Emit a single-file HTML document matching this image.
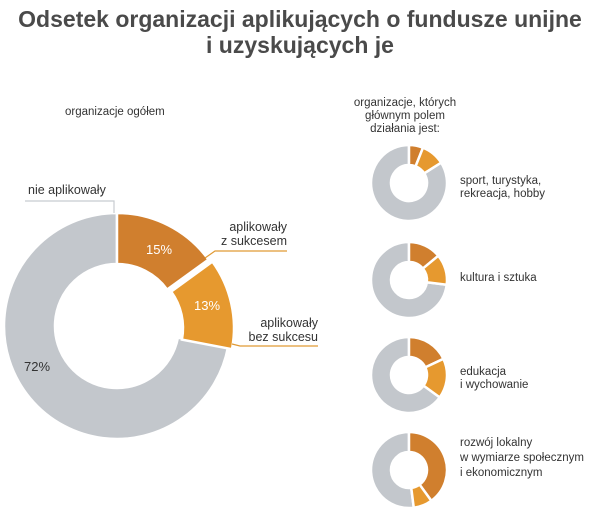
<!DOCTYPE html>
<html><head><meta charset="utf-8"><style>
body{margin:0;background:#fff;width:600px;height:525px;overflow:hidden;font-family:"Liberation Sans",sans-serif;}
svg{position:absolute;left:0;top:0}
</style></head><body>
<svg id="s" width="600" height="525" xmlns="http://www.w3.org/2000/svg">
<text x="300" y="27" text-anchor="middle" font-size="23" font-weight="bold" fill="#4a4a4a">Odsetek organizacji aplikujących o fundusze unijne</text>
<text x="300" y="53" text-anchor="middle" font-size="23" font-weight="bold" fill="#4a4a4a">i uzyskujących je</text>
<text x="65" y="115" font-size="11.5" fill="#333">organizacje ogółem</text>
<g font-size="11.5" fill="#333" text-anchor="middle">
<text x="405" y="106">organizacje, których</text>
<text x="405" y="119">głównym polem</text>
<text x="405" y="132">działania jest:</text>
</g>
<g id="d"></g>
<g font-size="12.5" fill="#333">
<text x="28" y="194">nie aplikowały</text>
<text x="287" y="231" text-anchor="end">aplikowały</text>
<text x="287" y="245" text-anchor="end">z sukcesem</text>
<text x="318" y="327" text-anchor="end">aplikowały</text>
<text x="318" y="341" text-anchor="end">bez sukcesu</text>
</g>
<polyline points="25,201 114,201 114,213" fill="none" stroke="#c8ccd0" stroke-width="1.2"/>
<polyline points="205,258 215,251 287,251" fill="none" stroke="#e09a35" stroke-width="1.2"/>
<polyline points="232,344 240,346 318,346" fill="none" stroke="#e09a35" stroke-width="1.2"/>
<g font-size="13" >
<text x="146" y="254" fill="#fff">15%</text>
<text x="194" y="310" fill="#fff">13%</text>
<text x="24" y="371" fill="#333">72%</text>
</g>
<g font-size="11.5" fill="#333">
<text x="460" y="184">sport, turystyka,</text>
<text x="460" y="197">rekreacja, hobby</text>
<text x="460" y="281">kultura i sztuka</text>
<text x="460" y="375">edukacja</text>
<text x="460" y="388">i wychowanie</text>
<text x="460" y="446">rozwój lokalny</text>
<text x="460" y="461">w wymiarze społecznym</text>
<text x="460" y="476">i ekonomicznym</text>
</g>
</svg>
<script>
function arc(cx,cy,R,r,a0,a1,col,dx,dy){
 const f=a=>[Math.sin(a*Math.PI/180),-Math.cos(a*Math.PI/180)];
 const [s0x,s0y]=f(a0),[s1x,s1y]=f(a1);const L=(a1-a0)>180?1:0;
 cx+=dx||0;cy+=dy||0;
 return `<path d="M${cx+R*s0x},${cy+R*s0y} A${R},${R} 0 ${L} 1 ${cx+R*s1x},${cy+R*s1y} L${cx+r*s1x},${cy+r*s1y} A${r},${r} 0 ${L} 0 ${cx+r*s0x},${cy+r*s0y}Z" fill="${col}" stroke="#fff" stroke-width="2.5"/>`;
}
const D='#d07f2e',O='#e6992f',G='#c3c7cc';
let h='';
function donut(cx,cy,R,r,p1,p2,big){
 const a1=p1*3.6,a2=(p1+p2)*3.6;
 h+=arc(cx,cy,R,r,a2,360,G);
 h+=arc(cx,cy,R,r,0,a1,D);
 h+=arc(cx,cy,R,r,a1,a2,O,big?4:0,big?2:0);
}
donut(117,326,113,62,15,13,1);
donut(409,183,38,18,6,10);
donut(409,280,38,18,14,13);
donut(409,375,38,18,18,17);
donut(409,470,38,18,40,8);
document.getElementById('d').innerHTML=h;
</script>
</body></html>
